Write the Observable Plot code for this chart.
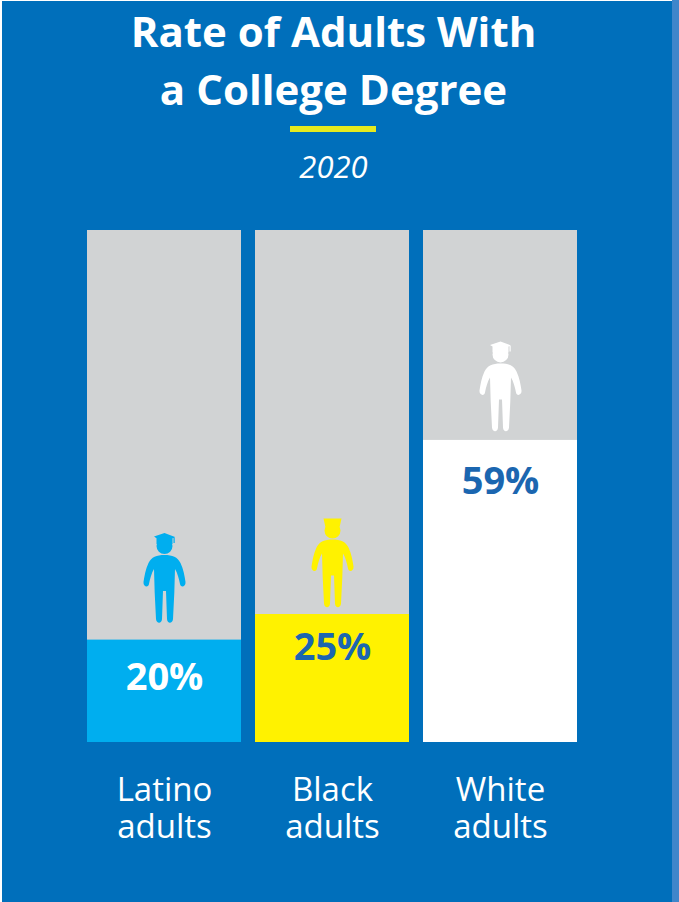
<!DOCTYPE html>
<html>
<head>
<meta charset="utf-8">
<script src="https://cdn.jsdelivr.net/npm/d3@7"></script>
<script src="https://cdn.jsdelivr.net/npm/@observablehq/plot@0.6"></script>
<style>
  html, body { margin: 0; padding: 0; background: #fff; }
  #page { position: relative; width: 679px; height: 902px; overflow: hidden; font-family: "Open Sans", sans-serif; color: #fff; }
  #panel { position: absolute; left: 2px; top: 1px; width: 670px; height: 901px; background: #006FBB; }
  #edge { position: absolute; left: 672px; top: 0; width: 7px; height: 902px; background: #3F86CB; }
  #head { position: absolute; left: 0; top: 0; width: 667px; height: 200px; text-align: center; }
  #head h1 { position: absolute; left: 0; width: 100%; margin: 0; font-size: 42px; font-weight: 700; line-height: 58px; top: 2px; }
  #rule { position: absolute; left: 290px; top: 126px; width: 86px; height: 6px; background: #E6EA1E; }
  #year { position: absolute; left: 0; width: 100%; top: 148px; font-size: 31px; font-weight: 400; font-style: italic; line-height: 36px; }
  #chart { position: absolute; left: 0; top: 200px; }
</style>
</head>
<body>
<div id="page">
  <div id="panel"></div>
  <div id="edge"></div>
  <div id="head">
    <h1>Rate of Adults With<br>a College Degree</h1>
    <div id="rule"></div>
    <div id="year">2020</div>
  </div>
  <div id="chart"></div>
</div>
<script>
const categories = ["Latino\nadults", "Black\nadults", "White\nadults"];
const rates = [20, 25, 59];
const fills = ["#00AEEF", "#FFF200", "#FFFFFF"];
const labelColors = ["#FFFFFF", "#1B66B0", "#1B66B0"];

const rows = categories.map((category, i) => ({
  category, rate: rates[i], fill: fills[i], labelColor: labelColors[i]
}));

// Standing figure, origin at the soles, y pointing down as in SVG.
function drawBody(c) {
  c.moveTo(0, -68);
  c.bezierCurveTo(8, -68, 13, -66, 16, -60);
  c.bezierCurveTo(19, -54, 20, -47, 21, -41);
  c.bezierCurveTo(21.5, -36, 16, -35, 15.5, -39);
  c.bezierCurveTo(14.5, -44, 13, -50, 10.5, -54);
  c.lineTo(9.8, -30);
  c.lineTo(8.5, -4);
  c.bezierCurveTo(8, 1, 2.8, 1, 2.5, -4);
  c.lineTo(1.5, -32);
  c.lineTo(-1.5, -32);
  c.lineTo(-2.5, -4);
  c.bezierCurveTo(-2.8, 1, -8, 1, -8.5, -4);
  c.lineTo(-9.8, -30);
  c.lineTo(-10.5, -54);
  c.bezierCurveTo(-13, -50, -14.5, -44, -15.5, -39);
  c.bezierCurveTo(-16, -35, -21.5, -36, -21, -41);
  c.bezierCurveTo(-20, -47, -19, -54, -16, -60);
  c.bezierCurveTo(-13, -66, -8, -68, 0, -68);
  c.closePath();
  c.moveTo(8, -77);
  c.arc(0, -77, 8, 0, 2 * Math.PI);
  c.closePath();
}

// Mortarboard with a small tassel on the right.
const mortarboard = {
  draw(c) {
    drawBody(c);
    c.moveTo(0, -90);
    c.lineTo(10.5, -86);
    c.lineTo(8, -84.8);
    c.lineTo(8, -79);
    c.lineTo(-8, -79);
    c.lineTo(-8, -84.8);
    c.lineTo(-10.5, -86.5);
    c.closePath();
    c.moveTo(9, -85.5);
    c.lineTo(10.2, -85.5);
    c.lineTo(10.2, -80);
    c.lineTo(9, -80);
    c.closePath();
  }
};

// Flat-topped cap worn square to the viewer.
const flatCap = {
  draw(c) {
    drawBody(c);
    c.moveTo(-9, -89);
    c.lineTo(9, -89);
    c.lineTo(7, -80);
    c.lineTo(-7, -80);
    c.closePath();
  }
};

// Per-bar placement of the figure above and the percentage inside each bar.
const figures = [
  { symbol: mortarboard, gap: 17 },
  { symbol: flatCap, gap: 7 },
  { symbol: mortarboard, gap: 9 }
];
const labelDrop = [38, 33, 41];

const chart = Plot.plot({
  width: 679,
  height: 702,
  marginTop: 0,
  marginRight: 0,
  marginBottom: 0,
  marginLeft: 0,
  style: { background: "transparent", fontFamily: "'Open Sans', sans-serif" },
  x: { domain: categories, range: [87, 577.5], paddingInner: 0.0855, paddingOuter: 0, axis: null },
  y: { domain: [0, 100], range: [542, 30], axis: null },
  marks: [
    Plot.barY(rows, { x: "category", y1: 0, y2: 100, fill: "#D1D3D4" }),
    Plot.barY(rows, { x: "category", y1: 0, y2: "rate", fill: "fill" }),
    ...rows.map((row, i) => Plot.dot([row], {
      x: "category",
      y: "rate",
      symbol: figures[i].symbol,
      dy: -figures[i].gap,
      fill: "fill",
      stroke: "none"
    })),
    ...rows.map((row, i) => Plot.text([row], {
      x: "category",
      y: "rate",
      text: d => `${d.rate}%`,
      dy: labelDrop[i],
      fill: "labelColor",
      fontSize: 38,
      fontWeight: 700
    })),
    Plot.axisX({
      anchor: "bottom",
      tickSize: 0,
      tickPadding: 0,
      label: null,
      y: 0,
      dy: 32,
      lineAnchor: "top",
      lineHeight: 1.12,
      fontSize: 33,
      fontWeight: 400,
      fill: "#FFFFFF"
    })
  ]
});
document.getElementById("chart").appendChild(chart);
</script>
</body>
</html>
